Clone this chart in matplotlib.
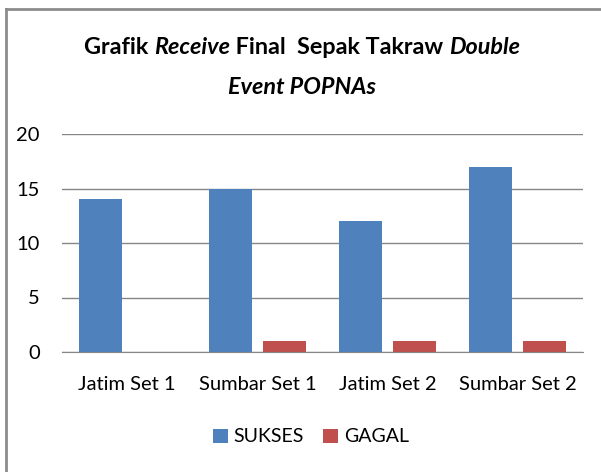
import matplotlib
matplotlib.use("Agg")
import matplotlib.pyplot as plt
import numpy as np
from matplotlib.lines import Line2D

categories = ["Jatim Set 1", "Sumbar Set 1", "Jatim Set 2", "Sumbar Set 2"]
sukses = [14, 15, 12, 17]
gagal = [0, 1, 1, 1]
yticks = [0, 5, 10, 15, 20]

FONT = "Lato"
plt.rcParams['font.family'] = [FONT, 'DejaVu Sans']

W, H = 601, 472
fig = plt.figure(figsize=(W/100, H/100), dpi=100)
fig.patch.set_facecolor("white")

# outer frame (top and left edges visible)
fig.add_artist(Line2D([6/W, 1], [1-9/H, 1-9/H], color="#8c8c8c", lw=2, transform=fig.transFigure))
fig.add_artist(Line2D([6/W, 6/W], [0, 1-9/H], color="#8c8c8c", lw=2, transform=fig.transFigure))

left, right, top, bottom = 62, 583, 134, 352
ax = fig.add_axes([left/W, 1-bottom/H, (right-left)/W, (bottom-top)/H])

x = np.arange(len(categories))
w = 0.33
off = 0.207
ax.bar(x - off, sukses, w, color="#4f81bd", label="SUKSES", zorder=3)
ax.bar(x + off, gagal, w, color="#c0504d", label="GAGAL", zorder=3)

ax.set_xlim(-0.5, len(categories) - 0.5)
ax.set_ylim(0, 20)
ax.set_yticks(yticks)
ax.set_yticklabels([str(v) for v in yticks], fontsize=14.5)
ax.set_xticks(x)
ax.set_xticklabels(categories, fontsize=14.5)
ax.tick_params(axis='y', length=0, pad=16)
ax.tick_params(axis='x', length=0, pad=17)
ax.yaxis.grid(True, color="#868686", lw=1, zorder=0)
for s in ["top", "right", "left"]:
    ax.spines[s].set_visible(False)
ax.spines["bottom"].set_color("#868686")
ax.spines["bottom"].set_zorder(4)

leg = fig.legend(loc="center", bbox_to_anchor=(311/W, 1-437/H), ncol=2, frameon=False,
                 fontsize=14, handlelength=0.75, handleheight=0.75, handletextpad=0.3,
                 columnspacing=1.0)

# title with mixed italic
fig.canvas.draw()
renderer = fig.canvas.get_renderer()
lines = [
    [("Grafik ", "normal"), ("Receive", "italic"), (" Final  Sepak Takraw ", "normal"), ("Double", "italic")],
    [("Event POPNAs", "italic")],
]
ys = [48, 88]
for segs, yy in zip(lines, ys):
    texts = []
    total = 0
    for s, st in segs:
        t = fig.text(0, 1-yy/H, s, fontsize=16.8, fontweight="bold", style=st, va="center", ha="left")
        bb = t.get_window_extent(renderer)
        texts.append((t, bb.width))
        total += bb.width
    xs = 302 - total/2
    for t, wd in texts:
        t.set_x(xs/W)
        xs += wd

fig.savefig("out.png", dpi=100, facecolor="white")
